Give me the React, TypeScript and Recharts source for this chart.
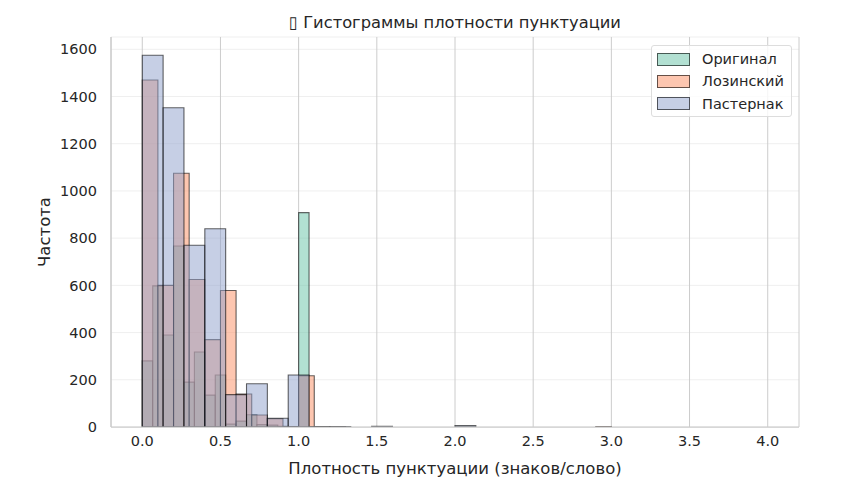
import {
  CartesianGrid,
  ComposedChart,
  ReferenceArea,
  XAxis,
  YAxis,
} from "recharts";

// histogram counts per bin, bins start at 0
const originalWidth = 1 / 15;
const originalCounts = [
  280, 598, 390, 767, 190, 318, 135, 220, 12, 25, 52, 10, 8, 3, 2, 908,
];

const lozinskyWidth = 0.1;
const lozinskyCounts = [
  1470, 600, 1075, 625, 370, 578, 140, 51, 35, 2, 217, 2, 1, 0, 0, 0, 0, 0, 0, 0,
  0, 0, 0, 0, 0, 0, 0, 0, 0, 2,
];

const pasternakWidth = 2 / 15;
const pasternakCounts = [
  1575, 1352, 770, 840, 137, 183, 37, 220, 2, 2, 0, 3, 0, 0, 0, 6,
];

const seriesNames = ["Оригинал", "Лозинский", "Пастернак"];
const seriesColors = ["#66c2a5", "#fc8d62", "#8da0cb"];

const xTicks = [0, 0.5, 1, 1.5, 2, 2.5, 3, 3.5, 4];
const yTicks = [0, 200, 400, 600, 800, 1000, 1200, 1400, 1600];

const FONT = "'DejaVu Sans', sans-serif";
const INK = "#262626";

function bins(counts: number[], width: number) {
  return counts
    .map((count, i) => ({ x1: i * width, x2: (i + 1) * width, count }))
    .filter((b) => b.count > 0);
}

const series = [
  bins(originalCounts, originalWidth),
  bins(lozinskyCounts, lozinskyWidth),
  bins(pasternakCounts, pasternakWidth),
];

export default function App() {
  const tickStyle = { fontSize: 14.5, fill: INK, fontFamily: FONT };

  return (
    <div
      style={{
        position: "absolute",
        left: 0,
        top: 0,
        width: 849,
        height: 504,
        background: "#fff",
        fontFamily: FONT,
        color: INK,
      }}
    >
      <ComposedChart
        width={849}
        height={504}
        data={[]}
        margin={{ top: 37, right: 50, bottom: 47, left: 51 }}
      >
        <CartesianGrid horizontal vertical={false} stroke="#efefef" strokeWidth={1} />
        <CartesianGrid horizontal={false} vertical stroke="#cccccc" strokeWidth={1} />
        <XAxis
          type="number"
          dataKey="x"
          domain={[-0.2, 4.2]}
          ticks={xTicks}
          allowDataOverflow
          tickFormatter={(v: number) => v.toFixed(1)}
          tickLine={false}
          tickSize={0}
          tickMargin={9}
          axisLine={{ stroke: "#cccccc", strokeWidth: 1.25 }}
          tick={tickStyle}
          height={30}
        />
        <XAxis
          xAxisId="top"
          orientation="top"
          type="number"
          domain={[-0.2, 4.2]}
          tick={false}
          tickLine={false}
          axisLine={{ stroke: "#cccccc", strokeWidth: 1.25 }}
          height={0}
        />
        <YAxis
          type="number"
          domain={[0, 1652]}
          ticks={yTicks}
          allowDataOverflow
          tickLine={false}
          tickSize={0}
          tickMargin={14}
          axisLine={{ stroke: "#cccccc", strokeWidth: 1.25 }}
          tick={tickStyle}
          width={60}
        />
        <YAxis
          yAxisId="right"
          orientation="right"
          type="number"
          domain={[0, 1652]}
          tick={false}
          tickLine={false}
          axisLine={{ stroke: "#cccccc", strokeWidth: 1.25 }}
          width={0}
        />
        {series.map((list, s) =>
          list.map((b, i) => (
            <ReferenceArea
              key={`${s}-${i}`}
              x1={b.x1}
              x2={b.x2}
              y1={0}
              y2={b.count}
              fill={seriesColors[s]}
              fillOpacity={0.5}
              stroke="#000"
              strokeOpacity={0.6}
              strokeWidth={1.1}
              ifOverflow="hidden"
            />
          ))
        )}
      </ComposedChart>

      <div
        style={{
          position: "absolute",
          left: 111,
          width: 688,
          top: 13,
          textAlign: "center",
          fontSize: 16.3,
          lineHeight: "20px",
        }}
      >
        ▯ Гистограммы плотности пунктуации
      </div>
      <div
        style={{
          position: "absolute",
          left: 111,
          width: 688,
          top: 459,
          textAlign: "center",
          fontSize: 16.5,
          lineHeight: "20px",
        }}
      >
        Плотность пунктуации (знаков/слово)
      </div>
      <div
        style={{
          position: "absolute",
          left: 45,
          top: 232,
          transform: "translate(-50%, -50%) rotate(-90deg)",
          fontSize: 16.5,
          lineHeight: "20px",
          whiteSpace: "nowrap",
        }}
      >
        Частота
      </div>

      <div
        style={{
          position: "absolute",
          left: 651,
          top: 45,
          width: 139,
          height: 70,
          border: "1px solid #dddddd",
          borderRadius: 3,
          background: "rgba(255,255,255,0.8)",
        }}
      >
        {seriesNames.map((name, i) => (
          <div
            key={name}
            style={{
              position: "absolute",
              left: 5,
              top: 3 + i * 22.3,
              height: 20,
              display: "flex",
              alignItems: "center",
              fontSize: 14.5,
              whiteSpace: "nowrap",
            }}
          >
            <span
              style={{
                display: "inline-block",
                width: 31,
                height: 11,
                background: seriesColors[i] + "80",
                border: "1px solid rgba(0,0,0,0.6)",
                marginRight: 12,
              }}
            />
            {name}
          </div>
        ))}
      </div>
    </div>
  );
}
